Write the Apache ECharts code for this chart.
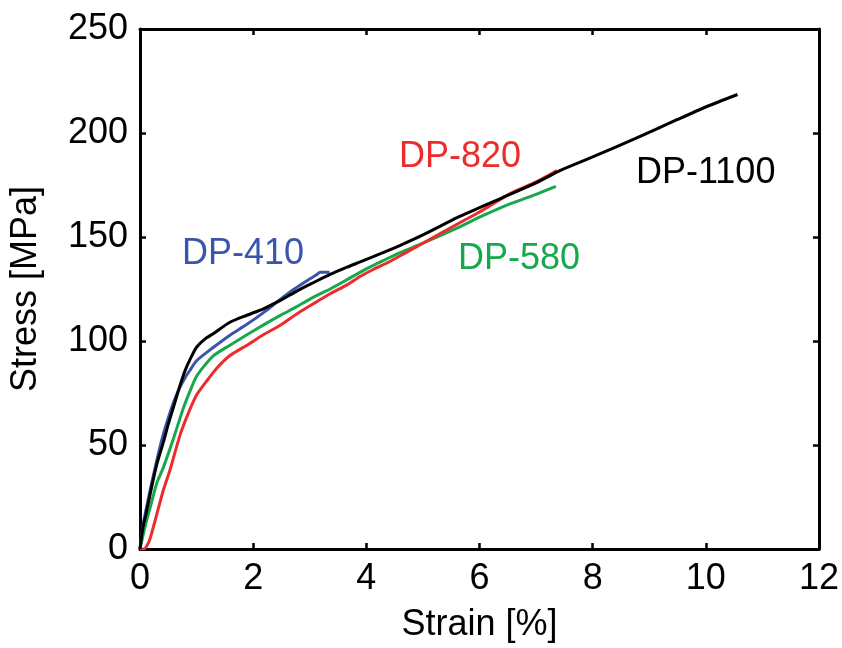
<!DOCTYPE html>
<html>
<head>
<meta charset="utf-8">
<script src="https://cdn.jsdelivr.net/npm/echarts@6/dist/echarts.min.js"></script>
<style>
  html, body { margin: 0; padding: 0; background: #fff; }
  #main { width: 842px; height: 648px; }
</style>
</head>
<body>
<div id="main"></div>
<script>
// strain [%] and stress [MPa]
let strain410 = [0, 0.05, 0.1, 0.2, 0.3, 0.4, 0.5, 0.6, 0.7, 0.8, 0.885, 1.0, 1.3, 1.59, 1.89, 2.2, 2.48, 2.7, 2.95, 3.1, 3.19, 3.35]
let stress410 = [0, 11, 18, 31, 43, 54, 63, 71, 77.5, 82.5, 86, 90.5, 97, 102.8, 108, 114, 120, 124.5, 129, 131.5, 133, 133]

let strain580 = [0, 0.1, 0.2, 0.3, 0.41, 0.59, 0.77, 0.9, 1.0, 1.15, 1.3, 1.59, 1.89, 2.2, 2.48, 2.77, 3.06, 3.36, 3.66, 3.92, 4.25, 4.6, 5.0, 5.66, 6.0, 6.55, 7.0, 7.35]
let stress580 = [0, 12, 22, 32, 39, 53, 68, 77, 83, 88.5, 93, 98, 103, 108, 112.3, 116.5, 121, 125, 129.5, 133.5, 138, 142.5, 147, 155, 159.5, 166, 170.5, 174.3]

let strain820 = [0, 0.07, 0.15, 0.2, 0.3, 0.41, 0.53, 0.71, 0.85, 1.0, 1.2, 1.36, 1.59, 1.89, 2.18, 2.48, 2.77, 3.07, 3.36, 3.66, 3.89, 4.13, 4.4, 4.7, 5.0, 5.66, 6.0, 6.55, 7.0, 7.37]
let stress820 = [0, 0, 3, 7, 17, 28, 38, 55, 65, 74, 81.5, 87, 93, 98, 103, 107.6, 113, 118, 122.7, 127, 131, 134.5, 138, 142.5, 147, 157, 162, 171, 176.5, 182]

let strain1100 = [0, 0.05, 0.1, 0.2, 0.3, 0.41, 0.5, 0.6, 0.7, 0.8, 0.9, 1.0, 1.15, 1.3, 1.59, 1.9, 2.18, 2.48, 2.77, 3.06, 3.36, 3.66, 3.89, 4.25, 4.6, 5.0, 5.66, 6.37, 7.0, 7.43, 8.0, 8.73, 9.5, 10.0, 10.56]
let stress1100 = [0, 10, 16, 29, 41, 51, 60, 69, 78, 86, 92, 97, 101, 103.6, 109, 112.5, 115.5, 119.5, 124, 128, 132, 135.5, 138, 142, 146, 151, 160, 168.5, 176, 182, 188.5, 197, 206.5, 212.5, 218.5]

let xTicks = [0, 2, 4, 6, 8, 10, 12]
let yTicks = [0, 50, 100, 150, 200, 250]

let names = ['DP-410', 'DP-580', 'DP-820', 'DP-1100']
let colors = ['#3b55ad', '#17a84e', '#ee2b2b', '#000000']
let strains = [strain410, strain580, strain820, strain1100]
let stresses = [stress410, stress580, stress820, stress1100]

function pairs(xs, ys) {
    return xs.map((x, i) => [x, ys[i]])
}

var myChart = echarts.init(document.getElementById('main'))

let font = 'Liberation Sans, Arial, sans-serif'
let axisLine = { show: true, onZero: false, lineStyle: { color: '#000', width: 3 } }
let tick = { show: true, inside: true, length: 6, lineStyle: { color: '#000', width: 2.5 } }

let option = {
    animation: false,
    backgroundColor: '#fff',
    grid: { left: 140, right: 23, top: 29, bottom: 96 },
    xAxis: [
        {
            type: 'value', min: 0, max: 12, interval: 2,
            name: 'Strain [%]', nameLocation: 'middle', nameGap: 58,
            nameTextStyle: { fontFamily: font, fontSize: 36, color: '#000' },
            axisLine: axisLine, axisTick: tick, splitLine: { show: false },
            axisLabel: { fontFamily: font, fontSize: 36, color: '#000', margin: 12,
                formatter: v => xTicks.includes(v) ? String(v) : '' }
        },
        {
            type: 'value', position: 'top', min: 0, max: 12, interval: 2,
            axisLine: axisLine, axisTick: tick, axisLabel: { show: false }, splitLine: { show: false }
        }
    ],
    yAxis: [
        {
            type: 'value', min: 0, max: 250, interval: 50,
            name: 'Stress [MPa]', nameLocation: 'middle', nameGap: 96, nameRotate: 90,
            nameTextStyle: { fontFamily: font, fontSize: 36, color: '#000' },
            axisLine: axisLine, axisTick: tick, splitLine: { show: false },
            axisLabel: { fontFamily: font, fontSize: 36, color: '#000', margin: 12,
                formatter: v => yTicks.includes(v) ? String(v) : '' }
        },
        {
            type: 'value', position: 'right', min: 0, max: 250, interval: 50,
            axisLine: axisLine, axisTick: tick, axisLabel: { show: false }, splitLine: { show: false }
        }
    ],
    series: names.map((n, i) => ({
        name: n,
        type: 'line',
        data: pairs(strains[i], stresses[i]),
        showSymbol: false,
        smooth: 0.25,
        lineStyle: { color: colors[i], width: 3 },
        z: i === 0 ? 1 : 2 + i
    })),
    graphic: [
        { type: 'text', left: 182, top: 236, style: { text: 'DP-410', fill: colors[0], font: '36px ' + font } },
        { type: 'text', left: 399, top: 139, style: { text: 'DP-820', fill: colors[2], font: '36px ' + font } },
        { type: 'text', left: 636, top: 155, style: { text: 'DP-1100', fill: colors[3], font: '36px ' + font } },
        { type: 'text', left: 458, top: 241, style: { text: 'DP-580', fill: colors[1], font: '36px ' + font } }
    ]
}

myChart.setOption(option)
</script>
</body>
</html>
